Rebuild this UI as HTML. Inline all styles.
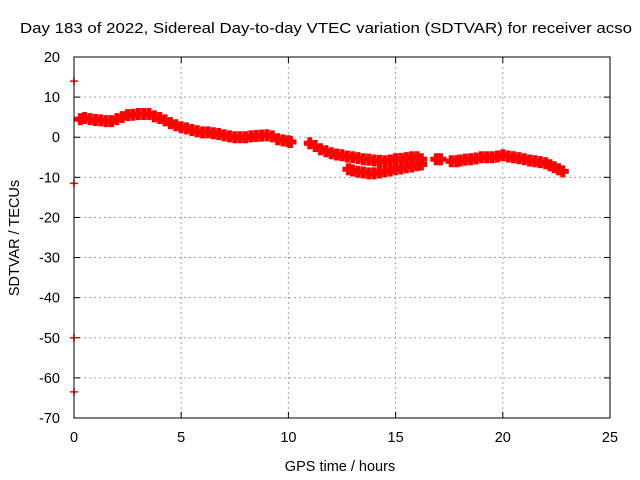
<!DOCTYPE html>
<html><head><meta charset="utf-8"><style>
body{margin:0;background:#fff}
svg{display:block;font-family:"Liberation Sans",sans-serif}
</style></head><body>
<svg id="c" width="640" height="480">
<text x="20" y="33" font-size="15" textLength="612" lengthAdjust="spacingAndGlyphs">Day 183 of 2022, Sidereal Day-to-day VTEC variation (SDTVAR) for receiver acso</text>
<text x="340" y="471" text-anchor="middle" font-size="14.5">GPS time / hours</text>
<text transform="translate(19,238) rotate(-90)" text-anchor="middle" font-size="14.5">SDTVAR / TECUs</text>
<g id="grid"></g>
<g id="ticks"></g>
<g id="marks"></g>
<rect x="74" y="57" width="536" height="361" fill="none" stroke="#000" stroke-width="1"/>
</svg>
<script>
const xTicks=[0,5,10,15,20,25];
const yTicks=[20,10,0,-10,-20,-30,-40,-50,-60,-70];
const times=[0.3,0.5,0.75,1,1.25,1.5,1.75,2,2.25,2.5,2.75,3,3.25,3.5,3.75,4,4.25,4.5,4.75,5,5.25,5.5,5.75,6,6.25,6.5,6.75,7,7.25,7.5,7.75,8,8.25,8.5,8.75,9,9.25,9.5,9.75,10,10.1,11,11.25,11.5,11.75,12,12.25,12.5,12.75,13,13.25,13.5,13.75,14,14.25,14.5,14.75,15,15.25,15.5,15.75,16,16.2,12.8,13,13.25,13.5,13.75,14,14.25,14.5,14.75,15,15.25,15.5,15.75,16,16.2,16.9,17.1,17.6,17.85,18,18.25,18.5,18.75,19,19.25,19.5,19.75,20,20.25,20.5,20.75,21,21.25,21.5,21.75,22,22.2,22.4,22.6,22.8,0,0,0,0];
const values=[4.5,4.8,4.5,4.3,4.2,4,4,4.5,5,5.5,5.6,5.8,5.8,5.8,5.2,4.8,4.2,3.5,3,2.5,2.2,1.8,1.5,1.2,1.2,1,0.8,0.5,0.2,0,0,0,0.2,0.3,0.4,0.5,0.2,-0.5,-0.8,-1,-1.2,-1.5,-2.2,-3,-3.5,-4,-4.3,-4.5,-4.8,-5,-5.2,-5.5,-5.6,-5.8,-5.9,-6,-5.8,-5.5,-5.4,-5.2,-5,-5,-5.5,-8,-8.3,-8.6,-8.8,-9,-9,-8.8,-8.5,-8.3,-8,-7.8,-7.5,-7.3,-7,-6.8,-5.5,-5.5,-6,-6,-5.8,-5.6,-5.5,-5.3,-5,-5,-5,-4.8,-4.5,-4.8,-5,-5.2,-5.5,-5.8,-6,-6.2,-6.5,-7,-7.5,-8,-8.5,14,-11.5,-50,-63.5];
const L=74,R=610,T=57,B=418;
const sx=v=>L+(v-0)/(25-0)*(R-L);
const sy=v=>T+(20-v)/(20-(-70))*(B-T);
const NS='http://www.w3.org/2000/svg';
const g=document.getElementById('grid'),tk=document.getElementById('ticks'),mk=document.getElementById('marks');
function mk_(tag,at,p){const e=document.createElementNS(NS,tag);for(const k in at)e.setAttribute(k,at[k]);p.appendChild(e);return e;}
xTicks.forEach(v=>{const x=sx(v);
 if(v>0&&v<25){const l=mk_('line',{x1:x,x2:x,y1:T,y2:B,stroke:'#a0a0a0','stroke-dasharray':'2,3'},g);}
 mk_('line',{x1:x,x2:x,y1:B,y2:B-6,stroke:'#000'},tk);mk_('line',{x1:x,x2:x,y1:T,y2:T+6,stroke:'#000'},tk);
 const t=mk_('text',{x:x,y:B+24,'text-anchor':'middle','font-size':'14.5'},tk);t.textContent=v;
 });
yTicks.forEach(v=>{const y=sy(v);
 if(v<20&&v>-70){const l=mk_('line',{x1:L,x2:R,y1:y,y2:y,stroke:'#a0a0a0','stroke-dasharray':'2,3'},g);}
 mk_('line',{x1:L,x2:L+6,y1:y,y2:y,stroke:'#000'},tk);mk_('line',{x1:R,x2:R-6,y1:y,y2:y,stroke:'#000'},tk);
 const t=mk_('text',{x:L-14,y:y+5,'text-anchor':'end','font-size':'14.5'},tk);t.textContent=v;
 });
times.forEach((tm,i)=>{const x=sx(tm),y=sy(values[i]);const big=tm>0;
 const h=big?6:4,w=big?5:1.5;
 const p=mk_('path',{d:`M${x-h},${y}H${x+h}M${x},${y-h}V${y+h}`,stroke:'#f00','stroke-width':w,fill:'none'},mk);
 });
</script>
</body></html>
